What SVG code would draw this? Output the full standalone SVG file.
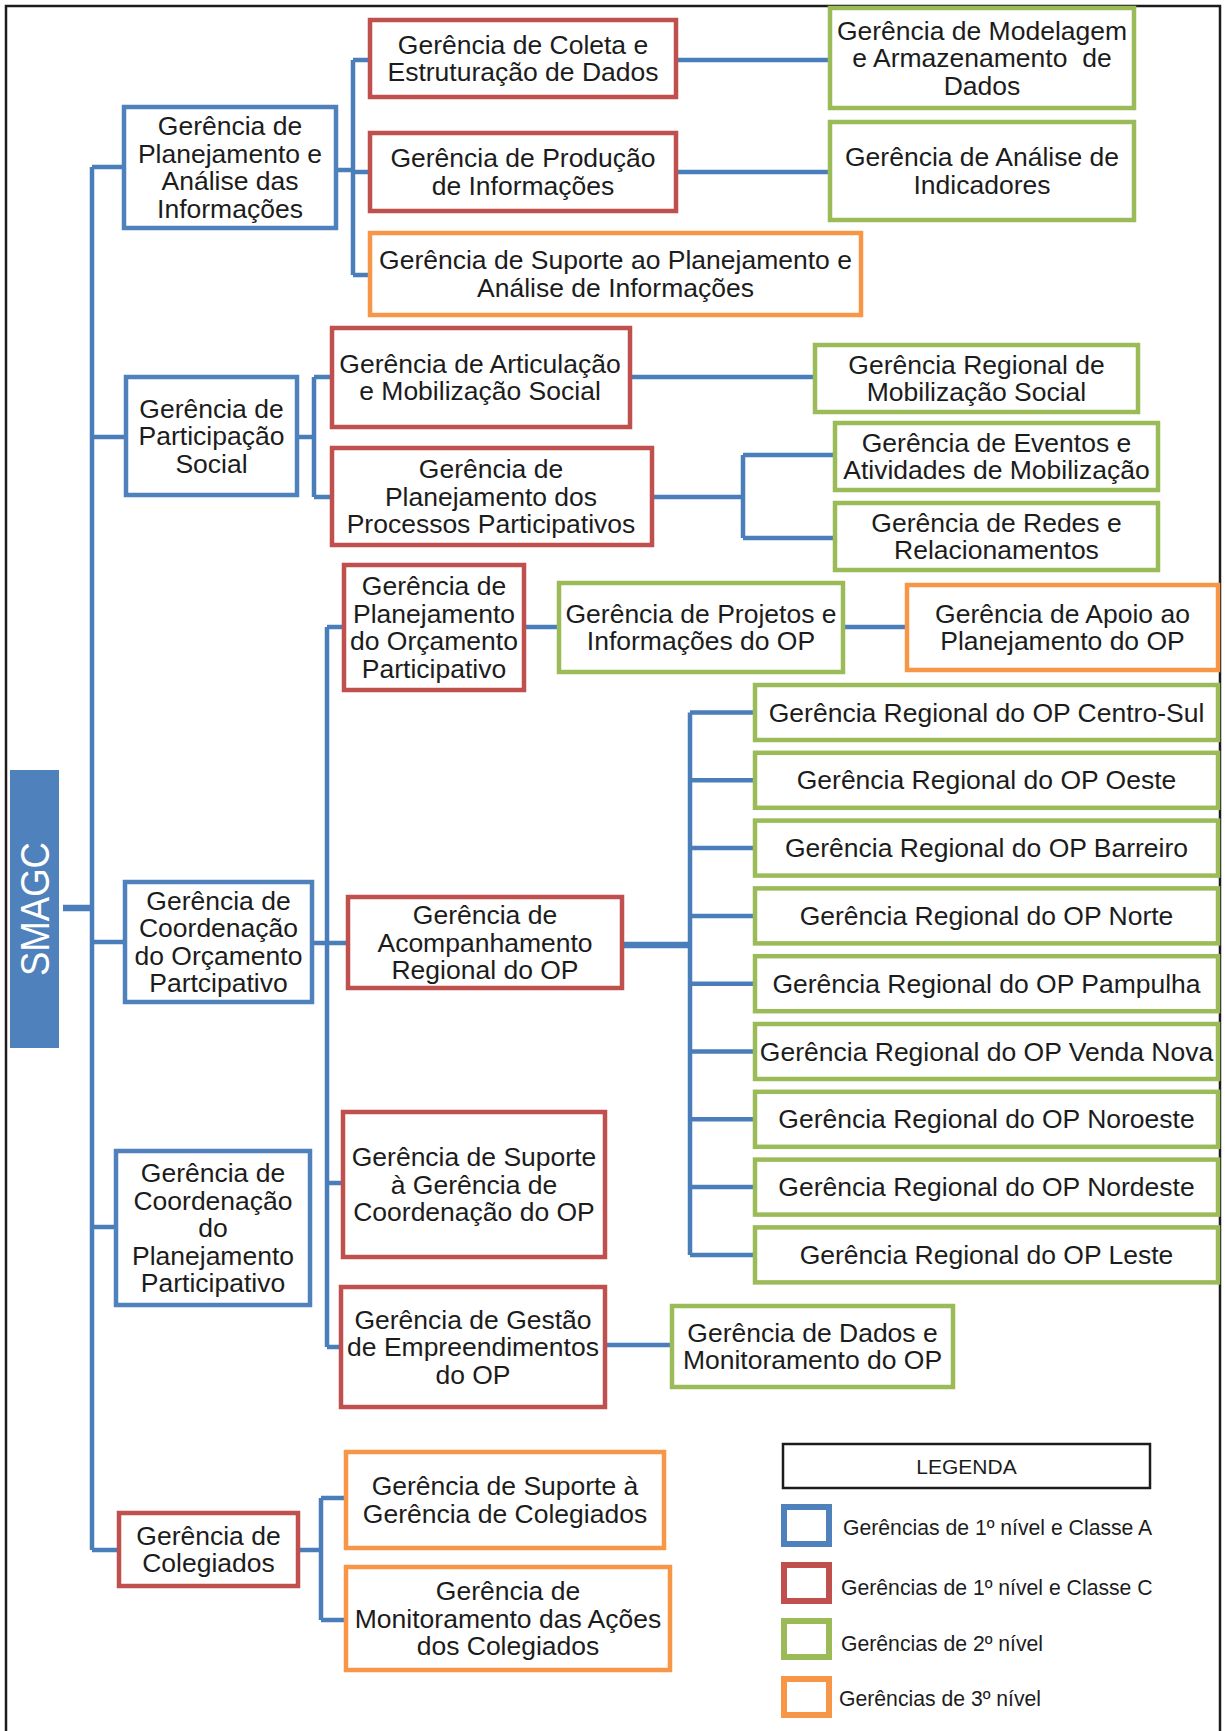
<svg xmlns="http://www.w3.org/2000/svg" width="1225" height="1731" viewBox="0 0 1225 1731">
  <style>
    .box { fill: #ffffff; stroke-width: 4.5; }
    .blue { stroke: #4f81bd; }
    .red { stroke: #c0504d; }
    .green { stroke: #9bbb59; }
    .orange { stroke: #f79646; }
    .t { font-family: "Liberation Sans", Arial, sans-serif; font-size: 26.5px; fill: #1c1c1c; text-anchor: middle; }
    .lg { font-family: "Liberation Sans", Arial, sans-serif; font-size: 21.2px; fill: #1c1c1c; }
    .conn { fill: none; stroke: #4a7ebb; stroke-width: 4.5; stroke-linejoin: miter; }
    .thick { stroke-width: 6.5; }
    .key { fill: #ffffff; stroke-width: 6; }
  </style>

  <rect x="0" y="0" width="1225" height="1731" fill="#ffffff"/>
  <!-- page frame (open at the bottom) -->
  <path d="M6,1735 V6 H1220 V1735" fill="none" stroke="#1c1c1c" stroke-width="2.5"/>

  <!-- connectors -->
  <g id="connectors">
    <path class="conn thick" d="M63,908 H92"/>
    <path class="conn" d="M92,167 V1550"/>
    <path class="conn" d="M92,167 H124 M92,437 H126 M92,942 H125 M92,1227 H116 M92,1550 H119"/>
    <!-- Planejamento e Análise -->
    <path class="conn" d="M336,170 H353 M353,60 V275 M353,60 H370 M353,172 H370 M353,275 H370"/>
    <path class="conn" d="M676,60 H830 M676,172 H830"/>
    <!-- Participação Social -->
    <path class="conn" d="M297,437 H314 M314,377 V497 M314,377 H332 M314,497 H332"/>
    <path class="conn" d="M630,377 H815"/>
    <path class="conn" d="M652,497 H743 M743,455 V538 M743,455 H835 M743,538 H835"/>
    <!-- Coordenação do Orçamento Participativo -->
    <path class="conn" d="M312,943 H327 M327,627 V1347 M327,627 H344 M327,943 H348 M327,1183 H343 M327,1347 H341"/>
    <path class="conn" d="M524,627 H559 M843,627 H907"/>
    <path class="conn thick" d="M622,945 H690"/>
    <path class="conn" d="M690,712.5 V1255 M690,712.5 H755 M690,780.3 H755 M690,848.1 H755 M690,915.9 H755 M690,983.7 H755 M690,1051.5 H755 M690,1119.3 H755 M690,1187.1 H755 M690,1254.9 H755"/>
    <path class="conn" d="M605,1345 H672"/>
    <!-- Colegiados -->
    <path class="conn" d="M298,1550 H321 M321,1498 V1620 M321,1498 H346 M321,1620 H346"/>
  </g>

  <!-- root -->
  <g id="smagc">
    <rect x="10" y="770" width="49" height="278" fill="#4f81bd"/>
    <text transform="translate(49,909) rotate(-90)" text-anchor="middle" font-family="Liberation Sans, Arial, sans-serif" font-size="41" fill="#ffffff" textLength="134" lengthAdjust="spacingAndGlyphs">SMAGC</text>
  </g>

  <!-- first branch -->
  <g id="ger-planejamento-analise">
    <rect class="box blue" x="124" y="107" width="212" height="121"/>
    <text class="t"><tspan x="230" y="135.3">Gerência de</tspan><tspan x="230" y="162.8">Planejamento e</tspan><tspan x="230" y="190.3">Análise das</tspan><tspan x="230" y="217.8">Informações</tspan></text>
  </g>
  <g id="ger-coleta">
    <rect class="box red" x="370" y="20" width="306" height="77"/>
    <text class="t"><tspan x="523" y="53.8">Gerência de Coleta e</tspan><tspan x="523" y="81.3">Estruturação de Dados</tspan></text>
  </g>
  <g id="ger-producao">
    <rect class="box red" x="370" y="133" width="306" height="78"/>
    <text class="t"><tspan x="523" y="167.3">Gerência de Produção</tspan><tspan x="523" y="194.8">de Informações</tspan></text>
  </g>
  <g id="ger-suporte-planejamento">
    <rect class="box orange" x="370" y="233" width="491" height="82"/>
    <text class="t"><tspan x="615.5" y="269.3">Gerência de Suporte ao Planejamento e</tspan><tspan x="615.5" y="296.8">Análise de Informações</tspan></text>
  </g>
  <g id="ger-modelagem">
    <rect class="box green" x="830" y="8" width="304" height="100"/>
    <text class="t" xml:space="preserve"><tspan x="982" y="39.5">Gerência de Modelagem</tspan><tspan x="982" y="67">e Armazenamento  de</tspan><tspan x="982" y="94.5">Dados</tspan></text>
  </g>
  <g id="ger-indicadores">
    <rect class="box green" x="830" y="122" width="304" height="98"/>
    <text class="t"><tspan x="982" y="166.3">Gerência de Análise de</tspan><tspan x="982" y="193.8">Indicadores</tspan></text>
  </g>

  <!-- second branch -->
  <g id="ger-participacao">
    <rect class="box blue" x="126" y="377" width="171" height="118"/>
    <text class="t"><tspan x="211.5" y="417.5">Gerência de</tspan><tspan x="211.5" y="445">Participação</tspan><tspan x="211.5" y="472.5">Social</tspan></text>
  </g>
  <g id="ger-articulacao">
    <rect class="box red" x="332" y="328" width="298" height="99"/>
    <text class="t"><tspan x="480" y="372.8">Gerência de Articulação</tspan><tspan x="480" y="400.3">e Mobilização Social</tspan></text>
  </g>
  <g id="ger-processos">
    <rect class="box red" x="332" y="448" width="320" height="97"/>
    <text class="t"><tspan x="491" y="478">Gerência de</tspan><tspan x="491" y="505.5">Planejamento dos</tspan><tspan x="491" y="533">Processos Participativos</tspan></text>
  </g>
  <g id="ger-regional-mobilizacao">
    <rect class="box green" x="815" y="345" width="323" height="67"/>
    <text class="t"><tspan x="976.5" y="373.8">Gerência Regional de</tspan><tspan x="976.5" y="401.3">Mobilização Social</tspan></text>
  </g>
  <g id="ger-eventos">
    <rect class="box green" x="835" y="423" width="323" height="67"/>
    <text class="t"><tspan x="996.5" y="451.8">Gerência de Eventos e</tspan><tspan x="996.5" y="479.3">Atividades de Mobilização</tspan></text>
  </g>
  <g id="ger-redes">
    <rect class="box green" x="835" y="503" width="323" height="67"/>
    <text class="t"><tspan x="996.5" y="531.8">Gerência de Redes e</tspan><tspan x="996.5" y="559.3">Relacionamentos</tspan></text>
  </g>

  <!-- third branch -->
  <g id="ger-coordenacao-op">
    <rect class="box blue" x="125" y="882" width="187" height="120"/>
    <text class="t"><tspan x="218.5" y="909.8">Gerência de</tspan><tspan x="218.5" y="937.3">Coordenação</tspan><tspan x="218.5" y="964.8">do Orçamento</tspan><tspan x="218.5" y="992.3">Partcipativo</tspan></text>
  </g>
  <g id="ger-planejamento-op">
    <rect class="box red" x="344" y="565" width="180" height="125"/>
    <text class="t"><tspan x="434" y="595.3">Gerência de</tspan><tspan x="434" y="622.8">Planejamento</tspan><tspan x="434" y="650.3">do Orçamento</tspan><tspan x="434" y="677.8">Participativo</tspan></text>
  </g>
  <g id="ger-projetos">
    <rect class="box green" x="559" y="583" width="284" height="89"/>
    <text class="t"><tspan x="701" y="622.8">Gerência de Projetos e</tspan><tspan x="701" y="650.3">Informações do OP</tspan></text>
  </g>
  <g id="ger-apoio">
    <rect class="box orange" x="907" y="585" width="311" height="85"/>
    <text class="t"><tspan x="1062.5" y="622.8">Gerência de Apoio ao</tspan><tspan x="1062.5" y="650.3">Planejamento do OP</tspan></text>
  </g>
  <g id="ger-acompanhamento">
    <rect class="box red" x="348" y="897" width="274" height="91"/>
    <text class="t"><tspan x="485" y="924">Gerência de</tspan><tspan x="485" y="951.5">Acompanhamento</tspan><tspan x="485" y="979">Regional do OP</tspan></text>
  </g>
  <g id="ger-reg-centro-sul">
    <rect class="box green" x="755" y="685" width="463" height="55"/>
    <text class="t" x="986.5" y="721.5">Gerência Regional do OP Centro-Sul</text>
  </g>
  <g id="ger-reg-oeste">
    <rect class="box green" x="755" y="752.8" width="463" height="55"/>
    <text class="t" x="986.5" y="789.3">Gerência Regional do OP Oeste</text>
  </g>
  <g id="ger-reg-barreiro">
    <rect class="box green" x="755" y="820.6" width="463" height="55"/>
    <text class="t" x="986.5" y="857.1">Gerência Regional do OP Barreiro</text>
  </g>
  <g id="ger-reg-norte">
    <rect class="box green" x="755" y="888.4" width="463" height="55"/>
    <text class="t" x="986.5" y="924.9">Gerência Regional do OP Norte</text>
  </g>
  <g id="ger-reg-pampulha">
    <rect class="box green" x="755" y="956.2" width="463" height="55"/>
    <text class="t" x="986.5" y="992.7">Gerência Regional do OP Pampulha</text>
  </g>
  <g id="ger-reg-venda-nova">
    <rect class="box green" x="755" y="1024" width="463" height="55"/>
    <text class="t" x="986.5" y="1060.5">Gerência Regional do OP Venda Nova</text>
  </g>
  <g id="ger-reg-noroeste">
    <rect class="box green" x="755" y="1091.8" width="463" height="55"/>
    <text class="t" x="986.5" y="1128.3">Gerência Regional do OP Noroeste</text>
  </g>
  <g id="ger-reg-nordeste">
    <rect class="box green" x="755" y="1159.6" width="463" height="55"/>
    <text class="t" x="986.5" y="1196.1">Gerência Regional do OP Nordeste</text>
  </g>
  <g id="ger-reg-leste">
    <rect class="box green" x="755" y="1227.4" width="463" height="55"/>
    <text class="t" x="986.5" y="1263.9">Gerência Regional do OP Leste</text>
  </g>
  <g id="ger-suporte-coordenacao">
    <rect class="box red" x="343" y="1112" width="262" height="145"/>
    <text class="t"><tspan x="474" y="1166">Gerência de Suporte</tspan><tspan x="474" y="1193.5">à Gerência de</tspan><tspan x="474" y="1221">Coordenação do OP</tspan></text>
  </g>
  <g id="ger-gestao">
    <rect class="box red" x="341" y="1287" width="264" height="120"/>
    <text class="t"><tspan x="473" y="1328.5">Gerência de Gestão</tspan><tspan x="473" y="1356">de Empreendimentos</tspan><tspan x="473" y="1383.5">do OP</tspan></text>
  </g>
  <g id="ger-dados-monitoramento">
    <rect class="box green" x="672" y="1306" width="281" height="81"/>
    <text class="t"><tspan x="812.5" y="1341.8">Gerência de Dados e</tspan><tspan x="812.5" y="1369.3">Monitoramento do OP</tspan></text>
  </g>

  <!-- fourth branch -->
  <g id="ger-coordenacao-pp">
    <rect class="box blue" x="116" y="1151" width="194" height="154"/>
    <text class="t"><tspan x="213" y="1182">Gerência de</tspan><tspan x="213" y="1209.5">Coordenação</tspan><tspan x="213" y="1237">do</tspan><tspan x="213" y="1264.5">Planejamento</tspan><tspan x="213" y="1292">Participativo</tspan></text>
  </g>

  <!-- fifth branch -->
  <g id="ger-colegiados">
    <rect class="box red" x="119" y="1513" width="179" height="73"/>
    <text class="t"><tspan x="208.5" y="1544.8">Gerência de</tspan><tspan x="208.5" y="1572.3">Colegiados</tspan></text>
  </g>
  <g id="ger-suporte-colegiados">
    <rect class="box orange" x="346" y="1452" width="318" height="96"/>
    <text class="t"><tspan x="505" y="1495.3">Gerência de Suporte à</tspan><tspan x="505" y="1522.8">Gerência de Colegiados</tspan></text>
  </g>
  <g id="ger-monitoramento-colegiados">
    <rect class="box orange" x="346" y="1567" width="324" height="103"/>
    <text class="t"><tspan x="508" y="1600">Gerência de</tspan><tspan x="508" y="1627.5">Monitoramento das Ações</tspan><tspan x="508" y="1655">dos Colegiados</tspan></text>
  </g>

  <!-- key -->
  <g id="legenda">
    <rect x="783" y="1444" width="367" height="44" fill="#ffffff" stroke="#1c1c1c" stroke-width="2.5"/>
    <text x="966.5" y="1474" text-anchor="middle" font-family="Liberation Sans, Arial, sans-serif" font-size="21" fill="#1c1c1c">LEGENDA</text>
    <rect class="key blue" x="784" y="1507" width="45" height="37"/>
    <text class="lg" x="843" y="1534.5">Gerências de 1º nível e Classe A</text>
    <rect class="key red" x="784" y="1565" width="45" height="36"/>
    <text class="lg" x="841" y="1594.5">Gerências de 1º nível e Classe C</text>
    <rect class="key green" x="784" y="1621" width="45" height="36"/>
    <text class="lg" x="841" y="1650.5">Gerências de 2º nível</text>
    <rect class="key orange" x="784" y="1679" width="45" height="36"/>
    <text class="lg" x="839" y="1705.5">Gerências de 3º nível</text>
  </g>
</svg>
